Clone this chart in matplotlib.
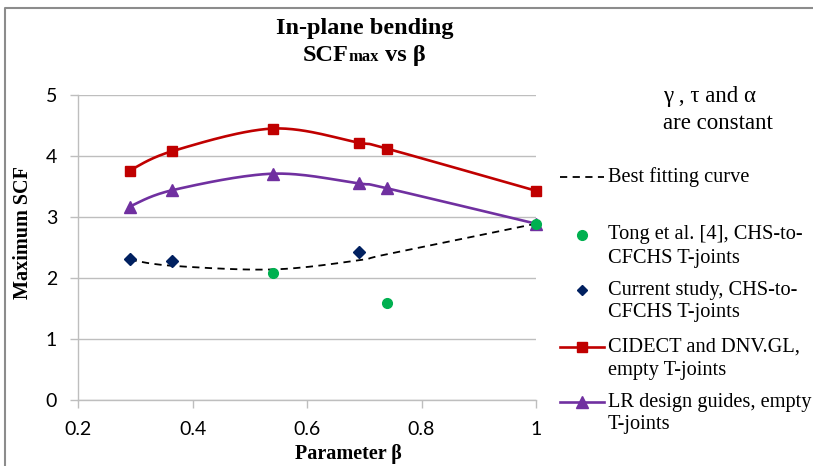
import numpy as np
import matplotlib
matplotlib.use("Agg")
import matplotlib.pyplot as plt
from matplotlib.lines import Line2D

# ---- data ----
beta = [0.29, 0.365, 0.54, 0.69, 0.74, 1.0]
cidect = [3.76, 4.08, 4.45, 4.22, 4.12, 3.43]
lr_guides = [3.17, 3.44, 3.71, 3.55, 3.47, 2.89]
current_x = [0.29, 0.365, 0.69]
current_y = [2.31, 2.28, 2.43]
tong_x = [0.54, 0.74, 1.0]
tong_y = [2.09, 1.59, 2.89]
fit_x = [0.29, 0.365, 0.54, 0.69, 0.74, 1.0]
fit_y = [2.30, 2.20, 2.14, 2.29, 2.39, 2.89]

xticks = [0.2, 0.4, 0.6, 0.8, 1.0]
xticklabels = ["0.2", "0.4", "0.6", "0.8", "1"]
yticks = [0, 1, 2, 3, 4, 5]

RED = "#C00000"
PURPLE = "#7030A0"
NAVY = "#002060"
GREEN = "#00B050"
GRID = "#BEBEBE"
SERIF = "Liberation Serif"
SANS = "Lato"

W, H = 813, 466
fig = plt.figure(figsize=(W / 100, H / 100), dpi=100)

def fx(px):
    return px / W

def fy(py):
    return 1 - py / H

ax = fig.add_axes([fx(78), fy(400), fx(536) - fx(78), fy(95) - fy(400)])
ax.set_xlim(0.2, 1.0)
ax.set_ylim(0, 5)
for s in ["top", "right"]:
    ax.spines[s].set_visible(False)
for s in ["left", "bottom"]:
    ax.spines[s].set_color(GRID)
    ax.spines[s].set_linewidth(1.0)
ax.set_xticks(xticks)
ax.set_xticklabels(xticklabels)
ax.set_yticks(yticks)
ax.tick_params(axis="both", colors=GRID, length=6, width=1.0, direction="out",
               labelcolor="black", labelsize=14)
ax.tick_params(axis="x", pad=9)
ax.tick_params(axis="y", pad=9)
for lab in ax.get_xticklabels() + ax.get_yticklabels():
    lab.set_fontfamily(SANS)
ax.yaxis.grid(True, color=GRID, linewidth=1.0)
ax.set_axisbelow(True)


def smooth(xs, ys, n=30):
    """Excel-style smoothed line (Catmull-Rom Bezier in display space)."""
    pts = ax.transData.transform(np.column_stack([xs, ys]))
    out = []
    m = len(pts)
    for i in range(m - 1):
        p0 = pts[max(i - 1, 0)]
        p1 = pts[i]
        p2 = pts[i + 1]
        p3 = pts[min(i + 2, m - 1)]
        c1 = p1 + (p2 - p0) / 6.0
        c2 = p2 - (p3 - p1) / 6.0
        t = np.linspace(0, 1, n)[:, None]
        seg = ((1 - t) ** 3) * p1 + 3 * ((1 - t) ** 2) * t * c1 + 3 * (1 - t) * t ** 2 * c2 + t ** 3 * p2
        out.append(seg if i == 0 else seg[1:])
    out = np.vstack(out)
    d = ax.transData.inverted().transform(out)
    return d[:, 0], d[:, 1]


sx, sy = smooth(fit_x, fit_y)
ax.plot(sx, sy, color="black", lw=1.3, dashes=(4, 3), zorder=3)
sx, sy = smooth(beta, cidect)
ax.plot(sx, sy, color=RED, lw=1.9, zorder=4)
ax.plot(beta, cidect, ls="none", marker="s", ms=7.5, color=RED, zorder=5)
sx, sy = smooth(beta, lr_guides)
ax.plot(sx, sy, color=PURPLE, lw=1.9, zorder=4)
ax.plot(beta, lr_guides, ls="none", marker="^", ms=8, color=PURPLE, zorder=5)
ax.plot(current_x, current_y, ls="none", marker="D", ms=6.5, color=NAVY, zorder=6)
ax.plot(tong_x, tong_y, ls="none", marker="o", ms=7, color=GREEN, zorder=6)

for c in ax.get_children():
    if isinstance(c, Line2D):
        c.set_clip_on(False)

# axis titles
fig.text(fx(348), fy(459), "Parameter β", ha="center", va="baseline",
         fontfamily=SERIF, fontweight="bold", fontsize=14.5)
fig.text(fx(23), fy(233), "Maximum SCF", ha="center", va="center", rotation=90,
         fontfamily=SERIF, fontweight="bold", fontsize=14.5)

# ---- title ----
fig.text(fx(365), fy(34), "In-plane bending", ha="center", va="baseline",
         fontfamily=SERIF, fontweight="bold", fontsize=17.5)
fig.canvas.draw()
r = fig.canvas.get_renderer()
parts = [("SCF", 17.5), ("max", 12), (" vs β", 17.5)]
objs = []
for s, fs in parts:
    objs.append(fig.text(0, fy(61), s, ha="left", va="baseline",
                         fontfamily=SERIF, fontweight="bold", fontsize=fs))
widths = [o.get_window_extent(r).width for o in objs]
x0 = 364 - sum(widths) / 2
for o, w in zip(objs, widths):
    o.set_x(fx(x0))
    x0 += w

# ---- note ----
fig.text(fx(663), fy(102), "γ , τ and α", ha="left", va="baseline",
         fontfamily=SERIF, fontsize=16.5)
fig.text(fx(663), fy(129), "are constant", ha="left", va="baseline",
         fontfamily=SERIF, fontsize=16.5)

# ---- legend (manual) ----
lx0, lx1, mx, tx = 560, 604, 582, 608
fig.add_artist(Line2D([fx(lx0), fx(lx1)], [fy(177), fy(177)], color="black", lw=1.3, dashes=(4, 3)))
fig.add_artist(Line2D([fx(mx)], [fy(235)], ls="none", marker="o", ms=7, color=GREEN))
fig.add_artist(Line2D([fx(mx)], [fy(290)], ls="none", marker="D", ms=5.5, color=NAVY))
fig.add_artist(Line2D([fx(lx0), fx(lx1)], [fy(347), fy(347)], color=RED, lw=1.9))
fig.add_artist(Line2D([fx(mx)], [fy(347)], ls="none", marker="s", ms=7.5, color=RED))
fig.add_artist(Line2D([fx(lx0), fx(lx1)], [fy(402), fy(402)], color=PURPLE, lw=1.9))
fig.add_artist(Line2D([fx(mx)], [fy(402)], ls="none", marker="^", ms=8, color=PURPLE))

entries = [
    (177, "Best fitting curve"),
    (235, "Tong et al. [4], CHS-to-"),
    (258, "CFCHS T-joints"),
    (290, "Current study, CHS-to-"),
    (313, "CFCHS T-joints"),
    (347, "CIDECT and DNV.GL,"),
    (370, "empty T-joints"),
    (402, "LR design guides, empty"),
    (425, "T-joints"),
]
for y, s in entries:
    fig.text(fx(tx), fy(y), s, ha="left", va="center", fontfamily=SERIF, fontsize=14.7)

# ---- chart border (top and left visible) ----
fig.add_artist(Line2D([fx(5), fx(5), fx(813)], [fy(466), fy(8), fy(8)], color="#8C8C8C", lw=1.5))

fig.savefig("out.png", dpi=100)
